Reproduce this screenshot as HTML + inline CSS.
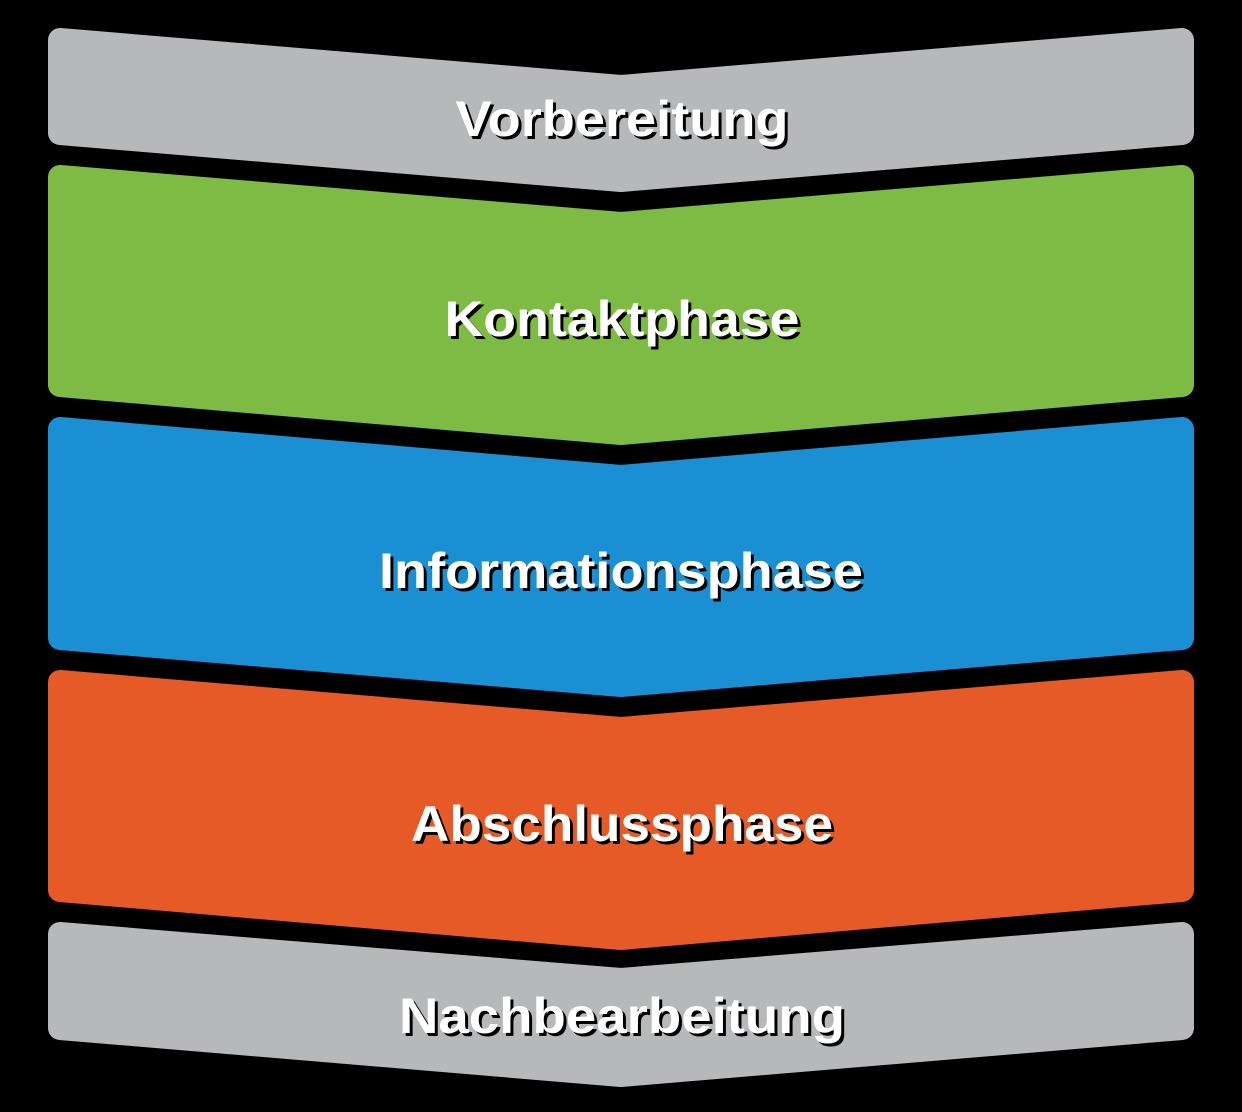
<!DOCTYPE html>
<html><head><meta charset="utf-8"><style>
html,body{margin:0;padding:0;background:#000;}
svg{display:block}
text{font-family:"Liberation Sans",sans-serif;font-weight:bold;font-size:50px;fill:#fff;text-anchor:middle;}
.s{fill:#000}
</style></head><body>
<svg width="1242" height="1112" viewBox="0 0 1242 1112">
<g stroke-linejoin="round" stroke-width="24">
<polygon fill="#b7b8ba" stroke="#b7b8ba" points="60,40 621,87 1182,40 1182,133 621,180 60,133"/>
<polygon fill="#7dbb45" stroke="#7dbb45" points="60,177 621,224 1182,177 1182,385 621,433 60,385"/>
<polygon fill="#1b8fd3" stroke="#1b8fd3" points="60,429 621,477 1182,429 1182,638 621,685 60,638"/>
<polygon fill="#e55a27" stroke="#e55a27" points="60,682 621,729 1182,682 1182,890 621,938 60,890"/>
<polygon fill="#b7b8ba" stroke="#b7b8ba" points="60,934 621,980 1182,934 1182,1028 621,1075 60,1028"/>
</g>
<g lengthAdjust="spacingAndGlyphs">
<text class="s" x="625" y="139" textLength="333" lengthAdjust="spacingAndGlyphs">Vorbereitung</text><text x="622" y="136" textLength="333" lengthAdjust="spacingAndGlyphs">Vorbereitung</text>
<text class="s" x="625" y="339" textLength="355" lengthAdjust="spacingAndGlyphs">Kontaktphase</text><text x="622" y="336" textLength="355" lengthAdjust="spacingAndGlyphs">Kontaktphase</text>
<text class="s" x="624" y="591" textLength="484" lengthAdjust="spacingAndGlyphs">Informationsphase</text><text x="621" y="588" textLength="484" lengthAdjust="spacingAndGlyphs">Informationsphase</text>
<text class="s" x="625" y="844" textLength="422" lengthAdjust="spacingAndGlyphs">Abschlussphase</text><text x="622" y="841" textLength="422" lengthAdjust="spacingAndGlyphs">Abschlussphase</text>
<text class="s" x="625" y="1036" textLength="446" lengthAdjust="spacingAndGlyphs">Nachbearbeitung</text><text x="622" y="1033" textLength="446" lengthAdjust="spacingAndGlyphs">Nachbearbeitung</text>
</g>
</svg>
</body></html>
